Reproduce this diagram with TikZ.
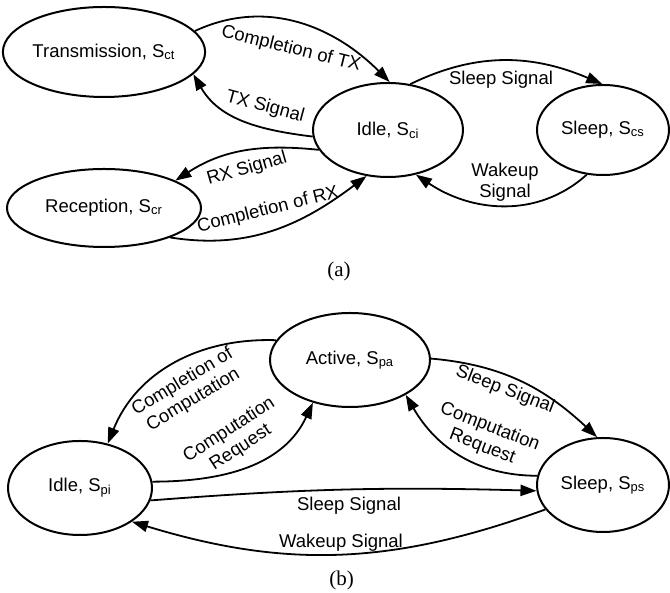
\documentclass[tikz,border=0pt]{standalone}
\usepackage{fontspec}
\setmainfont{Liberation Serif}
\newfontfamily\arial{Liberation Sans}
\usetikzlibrary{arrows.meta,shapes.geometric}

\begin{document}
\begin{tikzpicture}[x=0.5pt,y=0.5pt,
  state/.style={draw, ellipse, line width=1pt, inner sep=0pt,
    font=\arial\fontsize{9.25}{10}\selectfont},
  arr/.style={line width=0.9pt, -{Triangle[length=8pt,width=5.6pt]}},
  lbl/.style={font=\arial\fontsize{9.25}{10.5}\selectfont, inner sep=0pt, align=center},
  capt/.style={font=\fontsize{10.5}{12}\selectfont, inner sep=0pt}]
\useasboundingbox (0,0) rectangle (670,593);

% ---------- (a) communication states ----------
\node[state, minimum width=99pt, minimum height=45pt] (trans) at (104,541) {Transmission, S\textsubscript{ct}};
\node[state, minimum width=75pt, minimum height=47pt] (idlec) at (388,463) {Idle, S\textsubscript{ci}};
\node[state, minimum width=66pt, minimum height=45pt] (sleepc) at (603,463) {Sleep, S\textsubscript{cs}};
\node[state, minimum width=97pt, minimum height=39pt] (recep) at (104,385) {Reception, S\textsubscript{cr}};

\draw[arr] (trans.13) to[out=25,in=135] (idlec.88);
\draw[arr] (idlec.185) to[out=173,in=-60] (trans.-14);
\draw[arr] (idlec.64) to[out=26,in=157] (sleepc.91);
\draw[arr] (sleepc.250) to[out=222,in=-34] (idlec.-58);
\draw[arr] (idlec.196) to[out=174,in=33] (recep.21);
\draw[arr] (recep.-24) to[out=-9,in=217] (idlec.245);

\node[lbl, rotate=-14] (lctx) at (291,544) {Completion of TX};
\node[lbl, rotate=-15] (ltx) at (265,486) {TX Signal};
\node[lbl] (lssa) at (501,513) {Sleep Signal};
\node[lbl] (lwsa) at (505,411) {Wakeup\\Signal};
\node[lbl, rotate=16] (lrx) at (247,424) {RX Signal};
\node[lbl, rotate=14] (lcrx) at (268,383) {Completion of RX};

\node[capt] (capa) at (339,321.5) {(a)};

% ---------- (b) processor states ----------
\node[state, minimum width=80pt, minimum height=47pt] (active) at (350,233) {Active, S\textsubscript{pa}};
\node[state, minimum width=72pt, minimum height=47pt] (idlep) at (80,105) {Idle, S\textsubscript{pi}};
\node[state, minimum width=66pt, minimum height=47pt] (sleepp) at (603,108) {Sleep, S\textsubscript{ps}};

\draw[arr] (active.165) to[out=178,in=68] (idlep.58);
\draw[arr] (idlep.5) to[out=0,in=245] (active.229);
\draw[arr] (active.1) to[out=-5,in=137] (sleepp.97);
\draw[arr] (sleepp.172) to[out=180,in=-60] (active.-32);
\draw[arr] (idlep.-10) to[bend left=3] (sleepp.185);
\draw[arr] (sleepp.203) to[out=200,in=-17] (idlep.-33);

\node[lbl, rotate=31] (lcc) at (188,202) {Completion of\\Computation};
\node[lbl, rotate=33] (lcr1) at (235,154) {Computation\\Request};
\node[lbl, rotate=-21] (lssb) at (505,203) {Sleep Signal};
\node[lbl, rotate=-21] (lcr2) at (486,156) {Computation\\Request};
\node[lbl] (lss2) at (349,87) {Sleep Signal};
\node[lbl] (lws2) at (341,50) {Wakeup Signal};

\node[capt] (capb) at (341.5,13) {(b)};
\end{tikzpicture}
\end{document}
